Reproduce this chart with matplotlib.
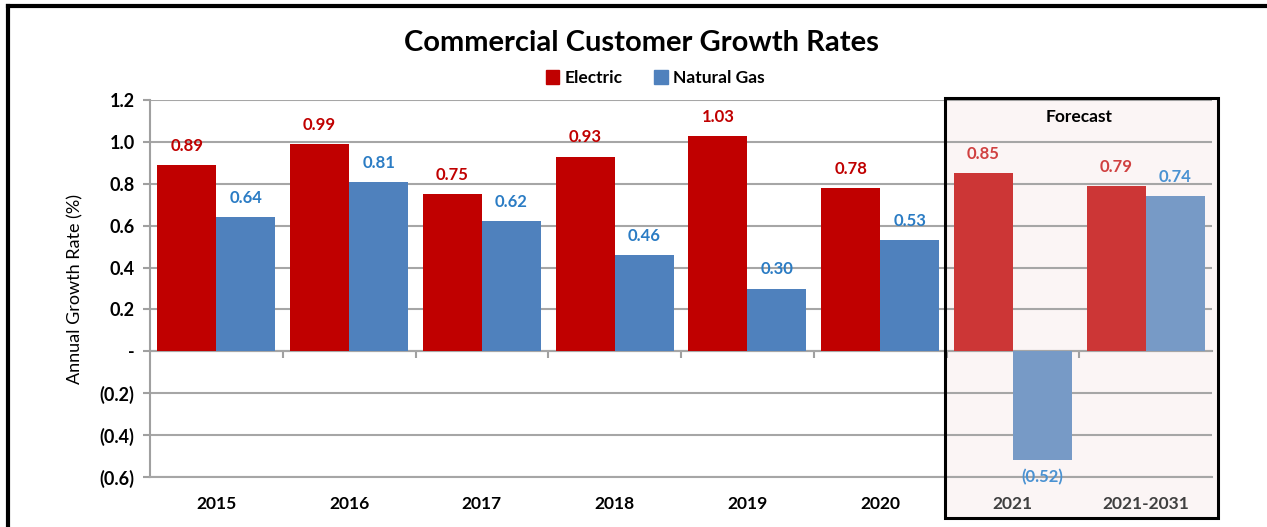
import matplotlib.pyplot as plt
from matplotlib.lines import Line2D
from matplotlib.patches import Rectangle, Patch
from matplotlib.ticker import FuncFormatter, FixedLocator
import numpy as np

plt.rcParams['font.family'] = ['Lato', 'DejaVu Sans']

categories = ["2015", "2016", "2017", "2018", "2019", "2020", "2021", "2021-2031"]
electric = [0.89, 0.99, 0.75, 0.93, 1.03, 0.78, 0.85, 0.79]
natural_gas = [0.64, 0.81, 0.62, 0.46, 0.30, 0.53, -0.52, 0.74]
n_history = 6  # first forecast column

# colours: actuals vs forecast
elec_col = ["#C00000"] * n_history + ["#CC3636"] * 2
gas_col = ["#4F81BD"] * n_history + ["#779AC6"] * 2
elec_lbl = ["#C00000"] * n_history + ["#D04040"] * 2
gas_lbl = ["#2B7CC4"] * n_history + ["#4A92D2"] * 2

fig = plt.figure(figsize=(12.67, 5.27), dpi=100)
ax = fig.add_axes([0.1184, 0.0949, 0.8382, 0.7153])
ax.set_facecolor("none")

x = np.arange(len(categories))
w = 0.445
ax.bar(x - w / 2, electric, w, color=elec_col, zorder=3)
ax.bar(x + w / 2, natural_gas, w, color=gas_col, zorder=3)

def fmt(v):
    return f"({abs(v):.2f})" if v < 0 else f"{v:.2f}"

for i, (e, g) in enumerate(zip(electric, natural_gas)):
    ax.annotate(fmt(e), (x[i] - w / 2, e), xytext=(0, 8), textcoords="offset points",
                ha="center", va="bottom", fontsize=12, fontweight="bold", color=elec_lbl[i])
    off, va = (8, "bottom") if g >= 0 else (-6, "top")
    ax.annotate(fmt(g), (x[i] + w / 2, g), xytext=(0, off), textcoords="offset points",
                ha="center", va=va, fontsize=12, fontweight="bold", color=gas_lbl[i])

ax.set_xlim(-0.5, len(categories) - 0.5)
ax.set_ylim(-0.6, 1.2)
ax.set_yticks(np.arange(-0.6, 1.21, 0.2))

def yfmt(v, pos):
    if abs(v) < 1e-9:
        return "-"
    return f"({abs(v):.1f})" if v < 0 else f"{v:.1f}"

ax.yaxis.set_major_formatter(FuncFormatter(yfmt))
ax.tick_params(axis="y", length=5, color="#A0A0A0", width=1.5, labelsize=13, pad=6)
for t in ax.get_yticklabels():
    t.set_fontweight("bold")
ax.grid(axis="y", color="#A6A6A6", linewidth=1.5, zorder=1)
ax.set_axisbelow(True)

ax.set_xticks(x)
ax.set_xticklabels(categories, fontsize=12.5, fontweight="bold")
ax.tick_params(axis="x", length=0, pad=14)
for t in ax.get_xticklabels()[n_history:]:
    t.set_color("#404040")

for s in ["top", "right"]:
    ax.spines[s].set_visible(False)
ax.spines["left"].set_color("#A0A0A0")
ax.spines["left"].set_linewidth(1.5)
ax.spines["bottom"].set_color("#A6A6A6")
ax.spines["bottom"].set_linewidth(1.5)

# zero line with category-boundary ticks
zero = ax.secondary_xaxis(0.6 / 1.8)
zero.spines["bottom"].set_color("#A0A0A0")
zero.spines["bottom"].set_linewidth(1.5)
zero.xaxis.set_major_locator(FixedLocator(np.arange(0.5, len(categories) - 1, 1.0)))
zero.tick_params(length=5, color="#A0A0A0", width=1.5, labelbottom=False)

ax.set_ylabel("Annual Growth Rate (%)", fontsize=13, labelpad=12)

# forecast box
box_kw = dict(transform=ax.transData, clip_on=False)
ax.add_patch(Rectangle((n_history - 0.51, -0.796), 2.055, 2.006, facecolor="#FBF5F5",
                       edgecolor="none", zorder=0, **box_kw))
ax.add_patch(Rectangle((n_history - 0.51, -0.796), 2.055, 2.006, facecolor="none",
                       edgecolor="black", linewidth=2.2, zorder=6, **box_kw))
ax.text(n_history + 0.5, 1.12, "Forecast", ha="center", va="center",
        fontsize=12.5, fontweight="bold")

fig.text(0.506, 0.918, "Commercial Customer Growth Rates", ha="center", va="center",
         fontsize=21, fontweight="bold")
handles = [Patch(color="#C00000"), Patch(color="#4F81BD")]
fig.legend(handles, ["Electric", "Natural Gas"], loc="center", bbox_to_anchor=(0.517, 0.852),
           ncol=2, frameon=False, handlelength=0.8, handleheight=0.8, handletextpad=0.3,
           columnspacing=1.8, prop={"size": 12.5, "weight": "bold"})

# outer chart frame
fig.add_artist(Line2D([0.0065, 1.0], [0.988, 0.988], color="black", linewidth=3))
fig.add_artist(Line2D([0.0065, 0.0065], [0.0, 0.988], color="black", linewidth=3))

fig.savefig("out.png", dpi=100)
